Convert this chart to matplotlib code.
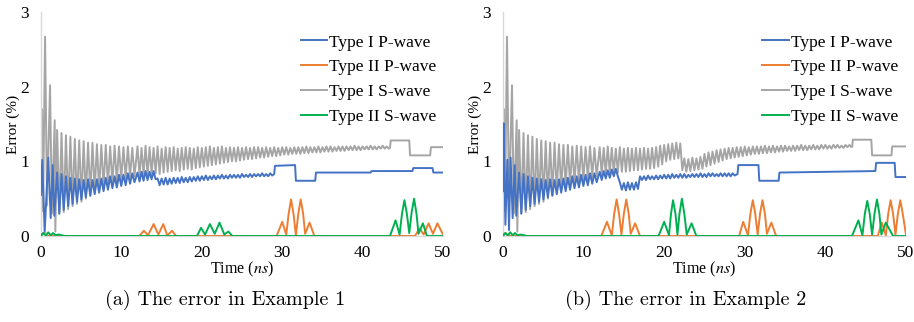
import numpy as np
import matplotlib.pyplot as plt

plt.rcParams['font.family'] = ['Liberation Serif', 'DejaVu Serif']
plt.rcParams['mathtext.fontset'] = 'stix'

# ---------------- data ----------------
# first 2 ns, same gray start in both examples
gray_start_t = [0.0, 0.12, 0.25, 0.5, 0.75, 1.12, 1.35, 1.7, 1.78]
gray_start_v = [0.6, 1.7, 0.33, 2.67, 0.41, 2.02, 0.3, 1.55, 0.06]
blue_a_start_t = [0.0, 0.15, 0.45, 0.9, 1.2, 1.45, 1.65]
blue_a_start_v = [0.55, 1.02, 0.05, 1.05, 0.24, 0.95, 0.27]
blue_b_start_t = [0.0, 0.08, 0.3, 0.55, 0.75, 0.95, 1.2, 1.45, 1.65]
blue_b_start_v = [0.6, 1.51, 0.15, 1.02, 0.08, 1.05, 0.24, 0.95, 0.27]

# 2-12 ns ripple: peak / trough pairs, one pair every 0.55 ns
gray_early_hi = [1.42, 1.38, 1.35, 1.33, 1.3, 1.28, 1.27, 1.25, 1.25,
                 1.23, 1.22, 1.22, 1.2, 1.21, 1.2, 1.19, 1.2, 1.18]
gray_early_lo = [0.3, 0.32, 0.36, 0.4, 0.43, 0.46, 0.5, 0.54, 0.58,
                 0.62, 0.65, 0.68, 0.7, 0.72, 0.75, 0.77, 0.79, 0.8]
blue_early_hi = [0.85, 0.83, 0.8, 0.78, 0.77, 0.76, 0.75, 0.76, 0.75,
                 0.76, 0.77, 0.78, 0.8, 0.8, 0.82, 0.82, 0.84, 0.84]
blue_early_lo = [0.3, 0.35, 0.4, 0.43, 0.46, 0.49, 0.52, 0.54, 0.56,
                 0.58, 0.6, 0.62, 0.64, 0.65, 0.67, 0.68, 0.7, 0.72]

# 12 ns onward ripple: one pair every 0.5 ns
gray_a_hi = [1.2, 1.18, 1.21, 1.19, 1.18, 1.2, 1.17, 1.19,
             1.18, 1.19, 1.17, 1.18, 1.19, 1.18, 1.17, 1.19,
             1.18, 1.19, 1.2, 1.18, 1.19, 1.2, 1.18, 1.19,
             1.18, 1.19, 1.18, 1.19, 1.18, 1.19, 1.19, 1.18,
             1.19, 1.18, 1.19, 1.18, 1.19, 1.19, 1.18, 1.19,
             1.19, 1.19, 1.2, 1.19, 1.19, 1.2, 1.19, 1.2,
             1.2, 1.19, 1.2, 1.2, 1.2, 1.2, 1.21, 1.2,
             1.2, 1.2, 1.21, 1.2, 1.2, 1.21, 1.2]
gray_a_lo = [0.8, 0.82, 0.81, 0.83, 0.84, 0.83, 0.85, 0.86,
             0.87, 0.88, 0.87, 0.89, 0.9, 0.89, 0.91, 0.92,
             0.93, 0.94, 0.95, 0.96, 0.97, 0.98, 0.99, 1.0,
             1.0, 1.01, 1.02, 1.03, 1.03, 1.04, 1.05, 1.05,
             1.06, 1.07, 1.07, 1.08, 1.09, 1.09, 1.1, 1.1,
             1.1, 1.11, 1.11, 1.12, 1.12, 1.12, 1.13, 1.13,
             1.13, 1.14, 1.14, 1.14, 1.15, 1.15, 1.15, 1.15,
             1.16, 1.16, 1.16, 1.16, 1.17, 1.17, 1.17]
gray_b_hi = [1.19, 1.18, 1.2, 1.18, 1.17, 1.19, 1.17, 1.18,
             1.17, 1.18, 1.17, 1.18, 1.17, 1.18, 1.19, 1.21,
             1.22, 1.23, 1.24, 1.25, 1.24,
             1.04, 1.03, 1.05, 1.04, 1.06,
             1.1, 1.12, 1.13, 1.15, 1.16, 1.17,
             1.18, 1.18, 1.19, 1.19, 1.2, 1.19, 1.2, 1.2,
             1.2, 1.21, 1.2, 1.21, 1.2, 1.21, 1.21, 1.2,
             1.21, 1.21, 1.22, 1.21, 1.21, 1.22, 1.21, 1.22,
             1.22, 1.21, 1.22, 1.22, 1.21, 1.22, 1.22]
gray_b_lo = [0.82, 0.83, 0.84, 0.84, 0.85, 0.86, 0.86, 0.87,
             0.88, 0.88, 0.89, 0.9, 0.9, 0.91, 0.93, 0.96,
             1.0, 1.02, 1.03, 1.04, 0.88,
             0.86, 0.87, 0.88, 0.89, 0.9,
             0.93, 0.95, 0.97, 0.99, 1.01, 1.03,
             1.04, 1.05, 1.06, 1.07, 1.08, 1.09, 1.1, 1.1,
             1.11, 1.11, 1.12, 1.12, 1.13, 1.13, 1.14, 1.14,
             1.14, 1.15, 1.15, 1.15, 1.16, 1.16, 1.16, 1.17,
             1.17, 1.17, 1.18, 1.18, 1.18, 1.19, 1.19]
blue_a_hi = [0.85, 0.86, 0.87, 0.86, 0.87,
             0.77, 0.77, 0.78, 0.77, 0.78, 0.78, 0.79, 0.78, 0.79, 0.79, 0.8,
             0.8, 0.81, 0.8, 0.81, 0.81, 0.82, 0.81, 0.82, 0.82,
             0.82, 0.83, 0.82, 0.83, 0.83, 0.83, 0.84, 0.83, 0.84]
blue_a_lo = [0.73, 0.74, 0.75, 0.76, 0.76,
             0.68, 0.69, 0.69, 0.7, 0.71, 0.71, 0.72, 0.72, 0.73, 0.74, 0.74,
             0.75, 0.75, 0.76, 0.76, 0.77, 0.77, 0.77, 0.78, 0.78,
             0.78, 0.79, 0.79, 0.79, 0.8, 0.8, 0.8, 0.8, 0.81]
blue_b_hi = [0.86, 0.87, 0.88, 0.89, 0.9,
             0.72, 0.71, 0.72, 0.71, 0.72,
             0.8, 0.8, 0.81, 0.8, 0.81, 0.81,
             0.82, 0.82, 0.83, 0.82, 0.83, 0.83, 0.82, 0.83, 0.83,
             0.84, 0.83, 0.84, 0.84, 0.83, 0.84, 0.84, 0.84, 0.84]
blue_b_lo = [0.75, 0.77, 0.78, 0.8, 0.8,
             0.62, 0.61, 0.62, 0.62, 0.63,
             0.75, 0.75, 0.76, 0.76, 0.76, 0.77,
             0.77, 0.77, 0.78, 0.78, 0.78, 0.78, 0.79, 0.79, 0.79,
             0.79, 0.79, 0.8, 0.8, 0.8, 0.8, 0.8, 0.8, 0.81]

# flat stepped tails
gray_a_step_t = [43.4, 43.5, 45.8, 45.9, 48.4, 48.5, 50.0]
gray_a_step_v = [1.18, 1.28, 1.28, 1.08, 1.08, 1.19, 1.19]
gray_b_step_t = [43.35, 43.4, 45.7, 45.8, 48.2, 48.3, 50.0]
gray_b_step_v = [1.2, 1.29, 1.29, 1.08, 1.08, 1.2, 1.2]
blue_a_step_t = [29.0, 29.1, 31.6, 31.7, 34.1, 34.2, 41.0, 41.1, 46.2, 46.3, 48.7, 48.8, 50.0]
blue_a_step_v = [0.83, 0.94, 0.95, 0.74, 0.74, 0.85, 0.85, 0.87, 0.87, 0.91, 0.91, 0.85, 0.85]
blue_b_step_t = [29.1, 29.2, 31.7, 31.8, 34.2, 34.3, 46.2, 46.3, 48.6, 48.7, 50.0]
blue_b_step_v = [0.83, 0.95, 0.95, 0.74, 0.74, 0.85, 0.87, 0.98, 0.98, 0.79, 0.79]

# type II errors
orange_a_t = [0, 0.3, 0.6, 1.0, 12.2, 12.8, 13.3, 14.0, 14.6, 15.2, 15.7, 16.3, 16.8,
              29.3, 30.0, 30.5, 30.8, 31.1, 31.4, 31.7, 32.0, 32.3, 32.6, 32.85, 33.4, 34.0,
              46.5, 47.1, 47.6, 48.2, 48.75, 49.3, 50.0]
orange_a_v = [0.02, 0.04, 0.01, 0.0, 0.0, 0.07, 0.01, 0.16, 0.02, 0.16, 0.01, 0.07, 0.0,
              0.0, 0.19, 0.02, 0.3, 0.49, 0.3, 0.01, 0.3, 0.49, 0.3, 0.03, 0.18, 0.0,
              0.0, 0.1, 0.02, 0.17, 0.03, 0.17, 0.02]
green_a_t = [0, 0.3, 0.6, 0.9, 1.2, 1.5, 1.8, 2.2, 2.6, 3.0,
             19.4, 19.9, 20.4, 21.0, 21.6, 22.2, 22.8, 23.3, 23.8,
             43.4, 44.1, 44.6, 44.9, 45.2, 45.5, 45.8, 46.1, 46.4, 46.7, 46.95, 47.5, 48.0, 50.0]
green_a_v = [0.0, 0.04, 0.01, 0.05, 0.01, 0.04, 0.01, 0.02, 0.01, 0.0,
             0.0, 0.11, 0.02, 0.16, 0.03, 0.18, 0.02, 0.06, 0.0,
             0.0, 0.21, 0.02, 0.3, 0.48, 0.3, 0.04, 0.32, 0.5, 0.3, 0.03, 0.17, 0.0, 0.0]
orange_b_t = [0, 0.3, 0.6, 1.0, 12.2, 12.9, 13.5, 13.8, 14.1, 14.4, 14.7, 15.0, 15.3, 15.6, 15.85, 16.4, 17.0,
              29.3, 29.8, 30.4, 30.7, 31.0, 31.3, 31.6, 31.9, 32.2, 32.5, 32.75, 33.3, 33.9,
              46.5, 47.0, 47.5, 47.8, 48.1, 48.4, 48.7, 49.0, 49.3, 49.6, 50.0]
orange_b_v = [0.02, 0.04, 0.01, 0.0, 0.0, 0.19, 0.01, 0.3, 0.49, 0.3, 0.02, 0.3, 0.49, 0.3, 0.03, 0.17, 0.0,
              0.0, 0.19, 0.01, 0.3, 0.48, 0.3, 0.02, 0.3, 0.48, 0.3, 0.03, 0.18, 0.0,
              0.0, 0.18, 0.01, 0.3, 0.48, 0.3, 0.02, 0.3, 0.48, 0.3, 0.02]
green_b_t = [0, 0.3, 0.6, 0.9, 1.2, 1.5, 1.8, 2.2, 2.6, 3.0,
             19.3, 20.0, 20.6, 20.85, 21.1, 21.4, 21.65, 21.9, 22.2, 22.5, 22.8, 23.4, 24.0,
             43.3, 44.1, 44.6, 44.9, 45.2, 45.5, 45.8, 46.1, 46.4, 46.7, 46.95, 47.5, 48.4, 50.0]
green_b_v = [0.0, 0.04, 0.01, 0.05, 0.01, 0.04, 0.01, 0.02, 0.01, 0.0,
             0.0, 0.19, 0.01, 0.3, 0.48, 0.3, 0.02, 0.3, 0.5, 0.3, 0.02, 0.17, 0.0,
             0.0, 0.21, 0.01, 0.3, 0.47, 0.3, 0.02, 0.3, 0.49, 0.3, 0.02, 0.18, 0.0, 0.0]

labels = ['Type I P-wave', 'Type II P-wave', 'Type I S-wave', 'Type II S-wave']
colors = ['#4472C4', '#ED7D31', '#A5A5A5', '#00B050']
captions = ['(a) The error in Example 1', '(b) The error in Example 2']


def zig(hi, lo, t0, step):
    # peak at t, trough half a step later
    t = t0 + step / 2 * np.arange(2 * len(hi))
    v = np.column_stack([hi, lo]).ravel()
    return t, v


def build(start_t, start_v, e_hi, e_lo, l_hi, l_lo, step_t, step_v):
    t1, v1 = zig(e_hi, e_lo, 2.0, 0.55)
    t2, v2 = zig(l_hi, l_lo, 12.0, 0.5)
    t = np.concatenate([start_t, t1, t2, step_t])
    v = np.concatenate([start_v, v1, v2, step_v])
    return t, v


panels = [
    dict(blue=build(blue_a_start_t, blue_a_start_v, blue_early_hi, blue_early_lo,
                    blue_a_hi, blue_a_lo, blue_a_step_t, blue_a_step_v),
         gray=build(gray_start_t, gray_start_v, gray_early_hi, gray_early_lo,
                    gray_a_hi, gray_a_lo, gray_a_step_t, gray_a_step_v),
         orange=(orange_a_t, orange_a_v), green=(green_a_t, green_a_v)),
    dict(blue=build(blue_b_start_t, blue_b_start_v, blue_early_hi, blue_early_lo,
                    blue_b_hi, blue_b_lo, blue_b_step_t, blue_b_step_v),
         gray=build(gray_start_t, gray_start_v, gray_early_hi, gray_early_lo,
                    gray_b_hi, gray_b_lo, gray_b_step_t, gray_b_step_v),
         orange=(orange_b_t, orange_b_v), green=(green_b_t, green_b_v)),
]

fig = plt.figure(figsize=(9.14, 3.22), dpi=100)
axes = [fig.add_axes([0.0449, 0.267, 0.4398, 0.6957]),
        fig.add_axes([0.5503, 0.267, 0.4409, 0.6957])]
leg_x = [0.647, 0.644]
cap_x = [0.246, 0.75]
fs = 12.5

for i, (ax, p) in enumerate(zip(axes, panels)):
    keys = ['blue', 'orange', 'gray', 'green']
    zo = [3, 4, 2, 5]
    for k, lab, c, z in zip(keys, labels, colors, zo):
        t, v = p[k]
        ax.plot(t, v, color=c, lw=1.4, label=lab, zorder=z)
    ax.set_xlim(0, 50)
    ax.set_ylim(0, 3)
    ax.set_xticks([0, 10, 20, 30, 40, 50])
    ax.set_yticks([0, 1, 2, 3])
    ax.tick_params(length=0, labelsize=fs)
    ax.tick_params(axis='y', pad=8.5)
    ax.tick_params(axis='x', pad=6.5)
    for s in ['top', 'right']:
        ax.spines[s].set_visible(False)
    for s in ['left', 'bottom']:
        ax.spines[s].set_color('#D9D9D9')
        ax.spines[s].set_linewidth(1.0)
    ax.set_ylabel('Error (%)', fontsize=11, labelpad=0.5)
    ax.set_xlabel('Time ($ns$)', fontsize=11.5, labelpad=-1)
    ax.legend(loc='upper left', bbox_to_anchor=(leg_x[i], 0.9), frameon=False,
              fontsize=fs, handlelength=1.5, handletextpad=0.12,
              labelspacing=0.5, borderpad=0, borderaxespad=0)
    fig.text(cap_x[i], 0.068, captions[i], family='cmr10', fontsize=14.5,
             ha='center', va='center')

fig.savefig('out.png', dpi=100)
